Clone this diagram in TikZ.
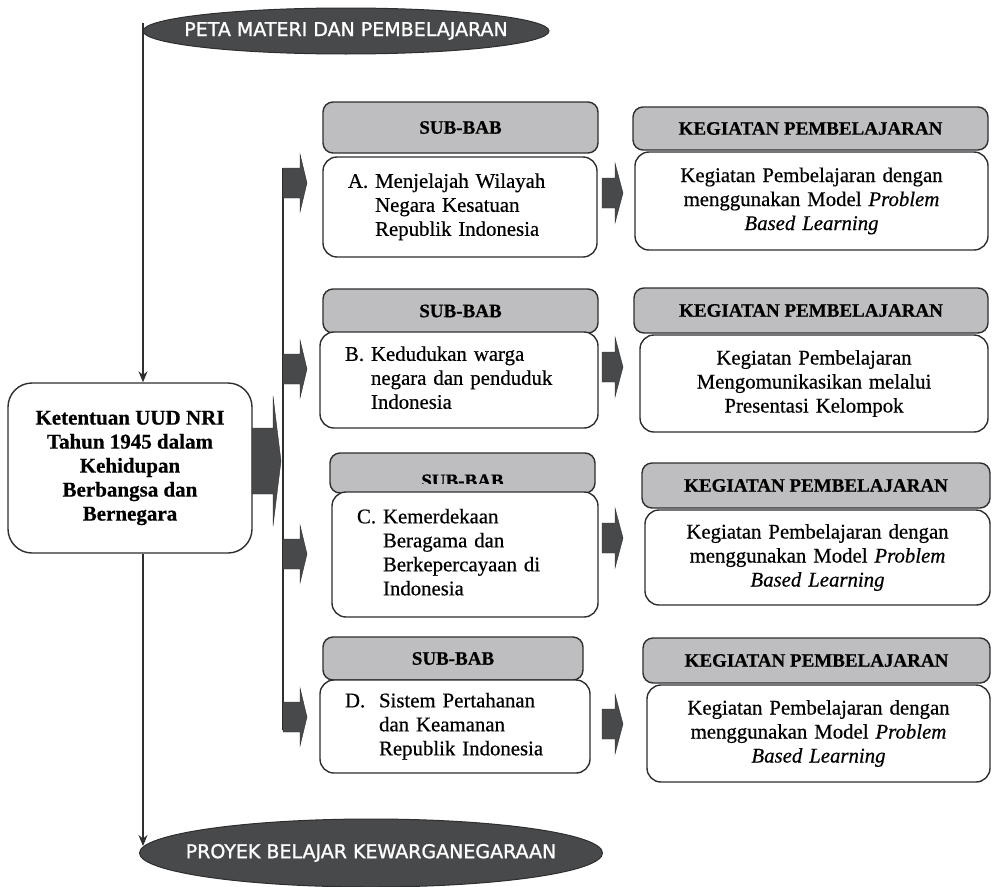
\documentclass[tikz,border=0pt]{standalone}
\usepackage{fontspec}
\setmainfont{Liberation Serif}[FakeBold=0.5]
\newfontfamily\sansjudul{DejaVu Sans}[FakeBold=1.2]
\usepackage{tikz}
\usetikzlibrary{shapes.geometric,calc,arrows.meta}
\definecolor{gelap}{HTML}{48494B}
\definecolor{abu}{HTML}{BEBEC0}
\definecolor{garis}{HTML}{2E2E30}

% panah blok: titik awal, panjang batang, panjang kepala, setengah batang, setengah kepala
\newcommand{\blokpanah}[5]{%
  \filldraw[gelap, draw=garis, line width=0.4pt] ($(#1)+(0,-#4)$) -- ++(#2,0) -- ++(0,#4-#5) -- ++(#3,#5)
    -- ++(-#3,#5) -- ++(0,#4-#5) -- ++(-#2,0) -- cycle;}

\begin{document}
\begin{tikzpicture}[>={Stealth[length=11pt,width=9pt]}, x=1pt, y=-1pt,
  bulat/.style={ellipse, fill=gelap, draw=garis, line width=1pt, inner sep=0pt, text=white,
    font=\sansjudul\fontsize{19}{22}\selectfont},
  kepala/.style={rectangle, rounded corners=10pt, fill=abu, draw=garis, line width=1.4pt,
    inner sep=0pt, font=\bfseries\fontsize{19}{22}\selectfont},
  isi/.style={rectangle, rounded corners=14pt, fill=white, draw=garis, line width=1.4pt,
    inner ysep=0pt, font=\fontsize{20.8}{24}\selectfont},
  kiri/.style={isi, align=left, inner xsep=25pt},
  tengah/.style={isi, align=center, inner xsep=10pt},
  pokok/.style={rectangle, rounded corners=24pt, fill=white, draw=garis, line width=1.4pt,
    inner sep=0pt, align=center, font=\bfseries\fontsize{21}{24}\selectfont}]
\useasboundingbox (0,0) rectangle (992,886);

%judul atas dan bawah
\node[bulat, minimum width=406, minimum height=46] (peta) at (346,31)
  {\makebox[0pt]{PETA MATERI DAN PEMBELAJARAN}};
\node[bulat, minimum width=463, minimum height=68] (proyek) at (371,853)
  {\makebox[0pt]{PROYEK BELAJAR KEWARGANEGARAAN}};

%materi pokok
\node[pokok, minimum width=244, minimum height=170] (pokok) at (130,468)
  {Ketentuan UUD NRI\\Tahun 1945 dalam\\Kehidupan\\Berbangsa dan\\Bernegara};
\coordinate (pangkal) at (143,23);
\coordinate (ujung) at (143,846);
\draw[->, garis, line width=1.2pt] (pangkal) -- (pangkal |- pokok.north);
\draw[->, garis, line width=1.2pt] (pangkal |- pokok.south) -- (ujung);

%sub-bab
\node[kepala, minimum width=275, minimum height=51] (sbA) at (460.5,127.5) {SUB-BAB};
\node[kiri, text width=224, minimum height=100] (isiA) at (460,207)
  {\begin{tabular}{@{}l@{ }l@{}}A. & Menjelajah Wilayah\\ & Negara Kesatuan\\ & Republik Indonesia\end{tabular}};
\node[kepala, minimum width=275, minimum height=44] (sbB) at (460.5,311) {SUB-BAB};
\node[kiri, text width=228, minimum height=96] (isiB) at (459,380)
  {\begin{tabular}{@{}l@{ }l@{}}B. & Kedudukan warga\\ & negara dan penduduk\\ & Indonesia\end{tabular}};
\node[kepala, minimum width=265, minimum height=40] (sbC) at (462.5,473) {};
\begin{scope}
  \clip (330,453) rectangle (595,483);
  \node[anchor=base, font=\bfseries\fontsize{19}{22}\selectfont] (sbCteks) at (462.5,487) {SUB-BAB};
\end{scope}
\node[kiri, text width=216, minimum height=125] (isiC) at (465,554.5)
  {\begin{tabular}{@{}l@{ }l@{}}C. & Kemerdekaan\\ & Beragama dan\\ & Berkepercayaan di\\ & Indonesia\end{tabular}};
\node[kepala, minimum width=260, minimum height=43] (sbD) at (453,658.5) {SUB-BAB};
\node[kiri, text width=220, minimum height=93] (isiD) at (455,726.5)
  {\begin{tabular}{@{}l@{\ \ }l@{}}D. & Sistem Pertahanan\\ & dan Keamanan\\ & Republik Indonesia\end{tabular}};

%kegiatan pembelajaran
\node[kepala, minimum width=355, minimum height=43] (kgA) at (810.5,128.5) {KEGIATAN PEMBELAJARAN};
\node[tengah, text width=333, minimum height=98] (isikgA) at (811.5,201)
  {Kegiatan Pembelajaran dengan\\menggunakan Model \textit{Problem}\\\textit{Based Learning}};
\node[kepala, minimum width=354, minimum height=45] (kgB) at (811,310.5) {KEGIATAN PEMBELAJARAN};
\node[tengah, text width=328, minimum height=97] (isikgB) at (814,383.5)
  {Kegiatan Pembelajaran\\Mengomunikasikan melalui\\Presentasi Kelompok};
\node[kepala, minimum width=348, minimum height=45] (kgC) at (816,485.5) {KEGIATAN PEMBELAJARAN};
\node[tengah, text width=325, minimum height=95] (isikgC) at (817.5,557.5)
  {Kegiatan Pembelajaran dengan\\menggunakan Model \textit{Problem}\\\textit{Based Learning}};
\node[kepala, minimum width=347, minimum height=45] (kgD) at (816.5,660.5) {KEGIATAN PEMBELAJARAN};
\node[tengah, text width=323, minimum height=97] (isikgD) at (818.5,733.5)
  {Kegiatan Pembelajaran dengan\\menggunakan Model \textit{Problem}\\\textit{Based Learning}};

%garis cabang dan panah blok
\coordinate (cabangatas) at (283,168);
\coordinate (cabangbawah) at (283,730);
\draw[garis, line width=1.5pt] (cabangatas) -- (cabangbawah);
\coordinate (pA) at (283,183);
\coordinate (pB) at (283,369);
\coordinate (pC) at (283,554);
\coordinate (pD) at (283,717);
\blokpanah{pA}{17}{7}{15}{29}
\blokpanah{pB}{17}{7}{15}{29}
\blokpanah{pC}{17}{7}{15}{29}
\blokpanah{pD}{17}{7}{15}{29}
\blokpanah{252,461}{21}{8}{33}{65}
\coordinate (tA) at (602,193);
\coordinate (tB) at (602,367);
\coordinate (tC) at (602,538);
\coordinate (tD) at (602,724);
\blokpanah{tA}{13}{8}{15}{30}
\blokpanah{tB}{13}{8}{15}{30}
\blokpanah{tC}{13}{8}{15}{30}
\blokpanah{tD}{13}{8}{15}{30}

\end{tikzpicture}
\end{document}
